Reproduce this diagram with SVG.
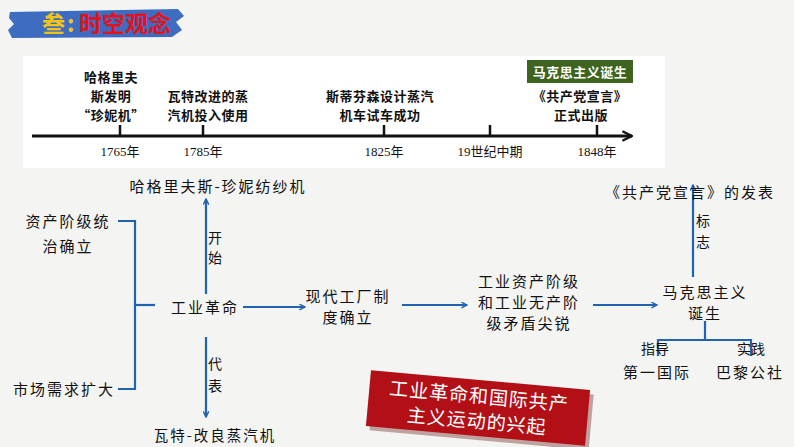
<svg xmlns="http://www.w3.org/2000/svg" width="794" height="447" viewBox="0 0 794 447">
<defs>
<style>
text{font-family:"Noto Sans CJK SC","Noto Sans",sans-serif;fill:#111;}
.tl{font-size:13px;font-weight:bold;text-anchor:middle;letter-spacing:0.5px;}
.yr{font-family:"Liberation Serif","Noto Sans CJK SC",serif;font-size:13px;text-anchor:middle;}
.n{font-size:15px;text-anchor:middle;letter-spacing:2px;}
.lb{font-size:14px;text-anchor:start;}
.c{stroke:#1f64b0;stroke-width:2.2;fill:none;}
</style>
<marker id="ab" viewBox="0 0 10 10" refX="9" refY="5" markerWidth="7" markerHeight="7" orient="auto" markerUnits="userSpaceOnUse">
<path d="M1,1 L9,5 L1,9" fill="none" stroke="#1f64b0" stroke-width="2"/>
</marker>
<marker id="ak" viewBox="0 0 10 10" refX="9" refY="5" markerWidth="12" markerHeight="12" orient="auto" markerUnits="userSpaceOnUse">
<path d="M1,1 L9,5 L1,9" fill="none" stroke="#111" stroke-width="2"/>
</marker>
</defs>
<rect width="794" height="447" fill="#f4f4f2"/>
<g id="title">
<path d="M10,12 L178,9 L184,16 L176,22 L182,30 L172,37 L12,38 L8,30 L14,24 L9,18 Z" fill="#3e6cc0"/>
<text x="42" y="32" style="font-size:23px;font-weight:bold;fill:#f2c418;">叁</text>
<text x="67" y="32" style="font-size:23px;font-weight:bold;fill:#f2c418;">:</text>
<text x="79" y="32" style="font-size:23px;font-weight:bold;fill:#e0141c;">时空观念</text>
</g>
<g id="timeline">
<rect x="23" y="56" width="642" height="112" fill="#ffffff"/>
<line x1="32" y1="136" x2="632" y2="136" stroke="#111" stroke-width="3" marker-end="url(#ak)"/>
<g stroke="#111" stroke-width="2.5">
<line x1="120" y1="125" x2="120" y2="136"/>
<line x1="203" y1="125" x2="203" y2="136"/>
<line x1="384" y1="125" x2="384" y2="136"/>
<line x1="490" y1="125" x2="490" y2="136"/>
<line x1="597" y1="125" x2="597" y2="136"/>
</g>
<text class="yr" x="120" y="156">1765年</text>
<text class="yr" x="203" y="156">1785年</text>
<text class="yr" x="384" y="156">1825年</text>
<text class="yr" x="490" y="156">19世纪中期</text>
<text class="yr" x="597" y="156">1848年</text>
<text class="tl" x="111" y="82">哈格里夫</text>
<text class="tl" x="111" y="101">斯发明</text>
<text class="tl" x="111" y="120">“珍妮机”</text>
<text class="tl" x="208" y="101">瓦特改进的蒸</text>
<text class="tl" x="208" y="120">汽机投入使用</text>
<text class="tl" x="380" y="101">斯蒂芬森设计蒸汽</text>
<text class="tl" x="380" y="120">机车试车成功</text>
<rect x="527" y="60" width="106" height="23" fill="#3f6420"/>
<text class="tl" x="580" y="76.5" style="fill:#ffffff;">马克思主义诞生</text>
<text class="tl" x="580" y="101">《共产党宣言》</text>
<text class="tl" x="581" y="120">正式出版</text>
</g>
<g id="connectors">
<line class="c" x1="206" y1="294" x2="206" y2="199" marker-end="url(#ab)"/>
<line class="c" x1="206" y1="337" x2="206" y2="417" marker-end="url(#ab)"/>
<polyline class="c" points="118,221 135,221 135,389 118,389"/>
<line class="c" x1="135" y1="305" x2="155" y2="305"/>
<line class="c" x1="243" y1="307" x2="305" y2="307" marker-end="url(#ab)"/>
<line class="c" x1="402" y1="305" x2="467" y2="305" marker-end="url(#ab)"/>
<line class="c" x1="593" y1="305" x2="657" y2="305" marker-end="url(#ab)"/>
<line class="c" x1="693" y1="277" x2="693" y2="185" marker-end="url(#ab)"/>
<line class="c" x1="705" y1="321" x2="705" y2="340"/>
<polyline class="c" points="658,356 658,340 751,340 751,356"/>
</g>
<g id="n-jenny"><text class="n" x="218" y="192">哈格里夫斯-珍妮纺纱机</text></g>
<g id="l-start"><text class="lb" x="208" y="243">开</text><text class="lb" x="208" y="263">始</text></g>
<g id="n-bourgeois"><text class="n" x="68" y="227">资产阶级统</text><text class="n" x="68" y="252">治确立</text></g>
<g id="n-market"><text class="n" x="64" y="395">市场需求扩大</text></g>
<g id="n-ir"><text class="n" x="205" y="313">工业革命</text></g>
<g id="l-rep"><text class="lb" x="208" y="369">代</text><text class="lb" x="208" y="391">表</text></g>
<g id="n-watt"><text class="n" x="215" y="441" style="font-size:14.5px;">瓦特-改良蒸汽机</text></g>
<g id="n-factory"><text class="n" x="348" y="302">现代工厂制</text><text class="n" x="348" y="323">度确立</text></g>
<g id="n-conflict"><text class="n" x="529" y="287">工业资产阶级</text><text class="n" x="529" y="308">和工业无产阶</text><text class="n" x="529" y="329">级矛盾尖锐</text></g>
<g id="n-marx"><text class="n" x="705" y="298">马克思主义</text><text class="n" x="705" y="319">诞生</text></g>
<g id="l-mark"><text class="lb" x="696" y="226">标</text><text class="lb" x="696" y="247">志</text></g>
<g id="n-manifesto"><text class="n" x="690" y="198">《共产党宣言》的发表</text></g>
<g id="l-guide"><text class="lb" x="641" y="354">指导</text></g>
<g id="l-practice"><text class="lb" x="737" y="354">实践</text></g>
<g id="n-first"><text class="n" x="657" y="378">第一国际</text></g>
<g id="n-paris"><text class="n" x="750" y="378">巴黎公社</text></g>
<g id="banner" transform="rotate(5.2 478 408)">
<rect x="370" y="382" width="220" height="56" fill="#5a0a0a" opacity="0.35" transform="translate(2 2)"/>
<rect x="368" y="380" width="220" height="56" fill="#b20f16"/>
<text x="478" y="403" style="font-size:19px;text-anchor:middle;fill:#ffffff;letter-spacing:1px;">工业革命和国际共产</text>
<text x="478" y="428" style="font-size:19px;text-anchor:middle;fill:#ffffff;letter-spacing:1px;">主义运动的兴起</text>
</g>
</svg>
